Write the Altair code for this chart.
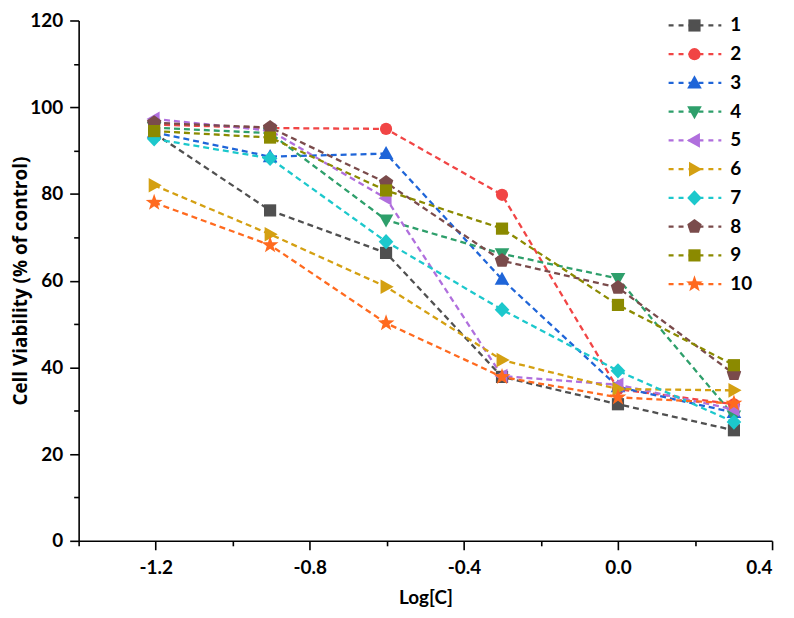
import altair as alt
import pandas as pd

FONT = "Lato"
TITLE_FONT_Y = "Open Sans"

# x positions: log10 of two-fold dilutions
log_c = [-1.204, -0.903, -0.602, -0.301, 0.0, 0.301]

series_names = ["1", "2", "3", "4", "5", "6", "7", "8", "9", "10"]

s1 = [94.0, 76.2, 66.4, 37.8, 31.5, 25.5]
s2 = [96.0, 95.2, 95.0, 79.8, 35.0, 31.5]
s3 = [94.2, 88.6, 89.3, 60.3, 35.5, 29.6]
s4 = [95.3, 94.0, 74.0, 66.2, 60.5, 28.8]
s5 = [97.3, 94.6, 79.0, 38.0, 36.0, 30.3]
s6 = [82.0, 70.7, 58.6, 41.7, 35.0, 34.7]
s7 = [92.7, 88.2, 69.0, 53.3, 39.2, 27.4]
s8 = [96.4, 95.3, 82.6, 64.6, 58.4, 38.5]
s9 = [94.5, 93.0, 80.8, 72.0, 54.4, 40.5]
s10 = [78.0, 68.2, 50.2, 37.8, 33.1, 31.7]
all_series = [s1, s2, s3, s4, s5, s6, s7, s8, s9, s10]

colors = ["#505050", "#f14545", "#1f65d8", "#2e9f6b", "#b06fdd",
          "#d4a012", "#1cc8cc", "#7a4b4b", "#8b8a00", "#ff6a1f"]

# marker symbol outlines (unit space)
TRI_UP = "M0,-1.25L1.2,0.9L-1.2,0.9Z"
TRI_DOWN = "M0,1.25L1.2,-0.9L-1.2,-0.9Z"
TRI_LEFT = "M-1.25,0L0.9,-1.2L0.9,1.2Z"
TRI_RIGHT = "M1.25,0L-0.9,-1.2L-0.9,1.2Z"
DIAMOND = "M0,-1.25L1.2,0L0,1.25L-1.2,0Z"
PENTAGON = "M0,-1.25L1.189,-0.386L0.735,1.011L-0.735,1.011L-1.189,-0.386Z"
STAR = ("M0,-1.45L0.341,-0.470L1.379,-0.448L0.551,0.180L0.853,1.173L0,0.58"
        "L-0.853,1.173L-0.551,0.180L-1.379,-0.448L-0.341,-0.470Z")
CIRCLE = "circle"
SQUARE = "square"
shapes = [SQUARE, CIRCLE, TRI_UP, TRI_DOWN, TRI_LEFT,
          TRI_RIGHT, DIAMOND, PENTAGON, SQUARE, STAR]

y_ticks = list(range(0, 121, 10))
x_ticks = [-1.4, -1.2, -1.0, -0.8, -0.6, -0.4, -0.2, 0.0, 0.2, 0.4]

rows = []
for name, vals in zip(series_names, all_series):
    for xv, yv in zip(log_c, vals):
        rows.append({"series": name, "logc": xv, "viab": yv})
df = pd.DataFrame(rows)

leg_df = pd.DataFrame({"series": series_names, "idx": list(range(len(series_names)))})

color_scale = alt.Scale(domain=series_names, range=colors)
shape_scale = alt.Scale(domain=series_names, range=shapes)

x_enc = alt.X(
    "logc:Q",
    scale=alt.Scale(domain=[-1.4, 0.4], nice=False, zero=False),
    axis=alt.Axis(
        values=x_ticks,
        labelExpr="abs(round(datum.value*10)) % 4 == 0 ? ((datum.value < -0.001 ? '-' : '') + format(abs(datum.value), '.1f')) : ''",
        tickSize={"condition": {"test": "abs(round(datum.value*10)) % 4 == 0", "value": 9}, "value": 5},
        title="Log[C]",
        grid=False,
        labelPadding=9,
        titlePadding=11,
        titleFontSize=19,
    ),
)
y_enc = alt.Y(
    "viab:Q",
    scale=alt.Scale(domain=[0, 120], nice=False, zero=True),
    axis=alt.Axis(
        values=y_ticks,
        labelExpr="datum.value % 20 == 0 ? datum.label : ''",
        tickSize={"condition": {"test": "datum.value % 20 == 0", "value": 9}, "value": 5},
        title="Cell Viability (% of control)",
        grid=False,
        labelPadding=7,
        titleFont=TITLE_FONT_Y,
        titleFontSize=19,
        titleX=-48,
        titleY=261.5,
    ),
)
color_enc = alt.Color("series:N", scale=color_scale, legend=None)
shape_enc = alt.Shape("series:N", scale=shape_scale, legend=None)

lines = alt.Chart(df).mark_line(strokeDash=[6, 4], strokeWidth=2.3).encode(
    x=x_enc, y=y_enc, color=color_enc, detail="series:N"
)
points = alt.Chart(df).mark_point(filled=True, opacity=1, size=150).encode(
    x=x_enc, y=y_enc, color=color_enc, shape=shape_enc
)
main = alt.layer(lines, points)

ly = alt.Y("idx:Q", scale=alt.Scale(domain=[0, 9], range=[5, 265], nice=False, zero=False), axis=None)
leg_rule = alt.Chart(leg_df).mark_rule(strokeDash=[5, 5], strokeWidth=2.3).encode(
    x=alt.value(593), x2=alt.value(646), y=ly, color=color_enc
)
leg_pt = alt.Chart(leg_df).mark_point(filled=True, opacity=1, size=150).encode(
    x=alt.value(619), y=ly, color=color_enc, shape=shape_enc
)
leg_txt = alt.Chart(leg_df).mark_text(
    align="left", baseline="middle", fontSize=19, fontWeight="bold", font=FONT, color="black"
).encode(x=alt.value(655), y=ly, text="series:N")
legend = alt.layer(leg_rule, leg_pt, leg_txt)

chart = (
    alt.layer(main, legend)
    .resolve_scale(y="independent")
    .properties(
        width=697,
        height=523,
        autosize=alt.AutoSizeParams(type="none"),
        padding={"left": 71, "top": 11, "right": 14, "bottom": 72},
        background="white",
    )
    .configure_view(stroke=None)
    .configure_axis(
        domainColor="black",
        domainWidth=1.6,
        tickColor="black",
        tickWidth=1.6,
        labelColor="black",
        labelFont=FONT,
        labelFontSize=19,
        labelFontWeight="bold",
        titleColor="black",
        titleFont=FONT,
        titleFontWeight="bold",
    )
)

chart.save("out.html", embed_options={"renderer": "svg", "actions": False})
